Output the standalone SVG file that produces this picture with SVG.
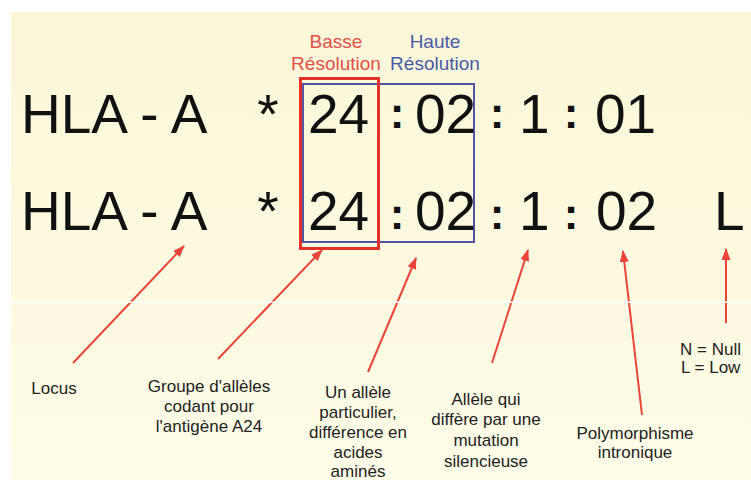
<svg xmlns="http://www.w3.org/2000/svg" width="751" height="480" viewBox="0 0 751 480">
  <defs>
    <linearGradient id="paper" x1="0" y1="0" x2="0" y2="1">
      <stop offset="0" stop-color="#fbf6d6"/>
      <stop offset="1" stop-color="#fffde8"/>
    </linearGradient>
    <marker id="head" markerUnits="userSpaceOnUse" markerWidth="12" markerHeight="9" refX="11" refY="4.5" orient="auto">
      <path d="M0,0 L12,4.5 L0,9 z" fill="#e8443a"/>
    </marker>
    <style>
      .big{font-family:"Liberation Sans",Arial,sans-serif;font-size:55px;fill:#111}
      .sep{font-family:"Liberation Sans",Arial,sans-serif;font-size:44px;font-weight:bold;fill:#111;text-anchor:middle}
      .res{font-family:"Liberation Sans",Arial,sans-serif;font-size:19px;text-anchor:middle}
      .lab{font-family:"Liberation Sans",Arial,sans-serif;font-size:17px;fill:#222;text-anchor:middle}
      .lab.left{text-anchor:start}
      .arrow{stroke:#e8443a;stroke-width:2;fill:none;marker-end:url(#head)}
    </style>
  </defs>

  <!-- page -->
  <rect x="0" y="0" width="751" height="480" fill="#ffffff"/>
  <rect x="11" y="12" width="740" height="468" fill="url(#paper)"/>

  <!-- resolution brackets -->
  <g id="haute-box">
    <rect x="303" y="84" width="171" height="158" fill="none" stroke="#4f55a3" stroke-width="2"/>
    <text class="res" x="435" y="48" fill="#4a5aa8">Haute</text>
    <text class="res" x="435" y="70" fill="#4a5aa8">Résolution</text>
  </g>
  <g id="basse-box">
    <rect x="300.5" y="78.5" width="78" height="170" fill="none" stroke="#e2302b" stroke-width="3"/>
    <text class="res" x="336" y="48" fill="#e0504a">Basse</text>
    <text class="res" x="336" y="70" fill="#e0504a">Résolution</text>
  </g>

  <!-- allele names -->
  <g id="allele-1">
    <text class="big" x="21" y="133">HLA - A</text>
    <text class="big" x="268" y="133" text-anchor="middle">*</text>
    <text class="big" x="308" y="133">24</text>
    <text class="sep" x="397" y="128">:</text>
    <text class="big" x="415" y="133">02</text>
    <text class="sep" x="497" y="128">:</text>
    <text class="big" x="519" y="133">1</text>
    <text class="sep" x="571" y="128">:</text>
    <text class="big" x="595" y="133">01</text>
  </g>
  <g id="allele-2">
    <text class="big" x="21" y="230">HLA - A</text>
    <text class="big" x="268" y="230" text-anchor="middle">*</text>
    <text class="big" x="308" y="230">24</text>
    <text class="sep" x="397" y="229">:</text>
    <text class="big" x="415" y="230">02</text>
    <text class="sep" x="497" y="229">:</text>
    <text class="big" x="519" y="230">1</text>
    <text class="sep" x="571" y="229">:</text>
    <text class="big" x="596" y="230">02</text>
    <text class="big" x="714" y="230">L</text>
  </g>

  <!-- field captions -->
  <g id="locus">
    <text class="lab" x="54" y="394">Locus</text>
  </g>
  <g id="groupe">
    <text class="lab" x="209" y="392">Groupe d'allèles</text>
    <text class="lab" x="209" y="412">codant pour</text>
    <text class="lab" x="209" y="432">l'antigène A24</text>
  </g>
  <g id="allele-particulier">
    <text class="lab" x="358" y="398">Un allèle</text>
    <text class="lab" x="358" y="418">particulier,</text>
    <text class="lab" x="358" y="438">différence en</text>
    <text class="lab" x="358" y="458">acides</text>
    <text class="lab" x="358" y="477">aminés</text>
  </g>
  <g id="mutation-silencieuse">
    <text class="lab" x="486" y="405">Allèle qui</text>
    <text class="lab" x="486" y="425">diffère par une</text>
    <text class="lab" x="486" y="446">mutation</text>
    <text class="lab" x="486" y="467">silencieuse</text>
  </g>
  <g id="polymorphisme">
    <text class="lab" x="635" y="439">Polymorphisme</text>
    <text class="lab" x="635" y="458">intronique</text>
  </g>
  <g id="expression">
    <text class="lab left" x="680" y="355">N = Null</text>
    <text class="lab left" x="681" y="373">L = Low</text>
  </g>

  <!-- pointers -->
  <g id="connectors">
    <line class="arrow" x1="73" y1="363" x2="184" y2="246"/>
    <line class="arrow" x1="218" y1="359" x2="322" y2="250"/>
    <line class="arrow" x1="368" y1="372" x2="416" y2="258"/>
    <line class="arrow" x1="492" y1="363" x2="528" y2="250"/>
    <line class="arrow" x1="642" y1="415" x2="623" y2="251"/>
    <line class="arrow" x1="726" y1="323" x2="726" y2="249"/>
  </g>

  <!-- scan seam across the page -->
  <rect x="11" y="301.5" width="740" height="1.5" fill="#ffffff"/>
</svg>
